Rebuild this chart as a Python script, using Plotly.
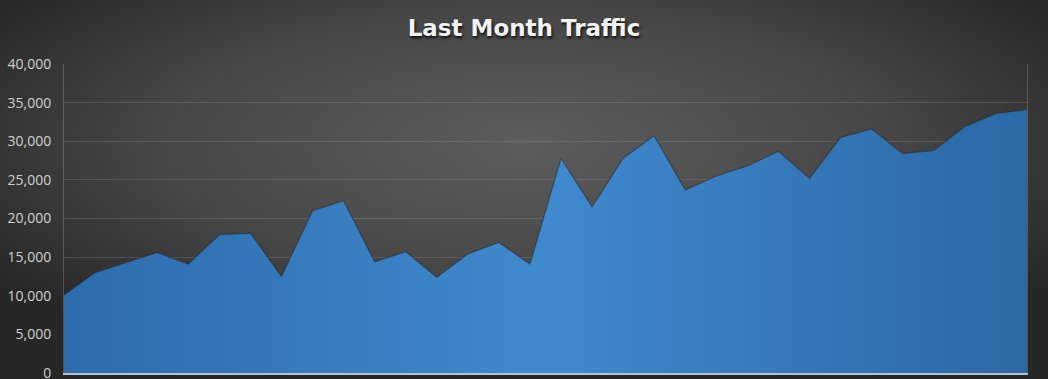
import base64
import plotly.graph_objects as go

days = list(range(1, 33))
visits = [10100, 13000, 14300, 15600, 14100, 17900, 18100, 12500, 21000, 22300,
          14400, 15700, 12400, 15400, 16900, 14100, 27800, 21500, 27800, 30700,
          23700, 25500, 26800, 28700, 25200, 30500, 31600, 28400, 28800, 31900,
          33600, 34100]
y_ticks = [0, 5000, 10000, 15000, 20000, 25000, 30000, 35000, 40000]
y_labels = ["0", "5,000", "10,000", "15,000", "20,000", "25,000", "30,000", "35,000", "40,000"]
title_text = "Last Month Traffic"

W, H = 1048, 379
L, R, T, B = 64, 21, 64, 6
pw, ph = W - L - R, H - T - B

svg = f'''<svg xmlns="http://www.w3.org/2000/svg" width="{W}" height="{H}" viewBox="0 0 {W} {H}" preserveAspectRatio="none">
<defs><radialGradient id="g" cx="50%" cy="38%" r="62%" fx="50%" fy="38%">
<stop offset="0" stop-color="#5d5d5d"/><stop offset="0.55" stop-color="#474747"/><stop offset="1" stop-color="#272727"/>
</radialGradient></defs><rect width="{W}" height="{H}" fill="url(#g)"/></svg>'''
bg_src = "data:image/svg+xml;base64," + base64.b64encode(svg.encode()).decode()

fig = go.Figure()
fig.add_trace(go.Scatter(
    x=days, y=visits, mode="lines", fill="tozeroy",
    line=dict(color="rgba(35,35,35,0.5)", width=1.2),
    fillgradient=dict(type="horizontal",
                      colorscale=[[0, "#2d6cac"], [0.5, "#3f8acf"], [1, "#2b68a6"]]),
    hoverinfo="skip", showlegend=False,
))

fig.update_layout(
    width=W, height=H,
    margin=dict(l=L, r=R, t=T, b=B, pad=0, autoexpand=False),
    paper_bgcolor="#3a3a3a",
    plot_bgcolor="rgba(0,0,0,0)",
    title=dict(text=f"<b>{title_text}</b>", x=0.5, xanchor="center", y=1 - 28 / H, yanchor="middle",
               font=dict(family="DejaVu Sans", size=23, color="#f2f2f2",
                         shadow="1px 2px 3px rgba(0,0,0,0.85)")),
    images=[dict(source=bg_src, xref="paper", yref="paper",
                 x=-L / pw, y=1 + T / ph, sizex=W / pw, sizey=H / ph,
                 xanchor="left", yanchor="top", sizing="stretch", layer="below")],
    xaxis=dict(range=[days[0], days[-1]], showticklabels=False, showgrid=False, zeroline=False,
               showline=True, linecolor="#b9c1cc", linewidth=2, ticks="", automargin=False),
    yaxis=dict(range=[0, 40000], tickvals=y_ticks, ticktext=y_labels, showgrid=True,
               gridcolor="rgba(150,150,150,0.28)", gridwidth=1, zeroline=False,
               showline=True, mirror=True, linecolor="rgba(150,150,150,0.4)", linewidth=1,
               ticks="", ticklabelstandoff=9, ticklabeloverflow="allow", automargin=False,
               tickfont=dict(family="Open Sans", size=14, color="#d0d0d0")),
)

fig.write_html("out.html")
